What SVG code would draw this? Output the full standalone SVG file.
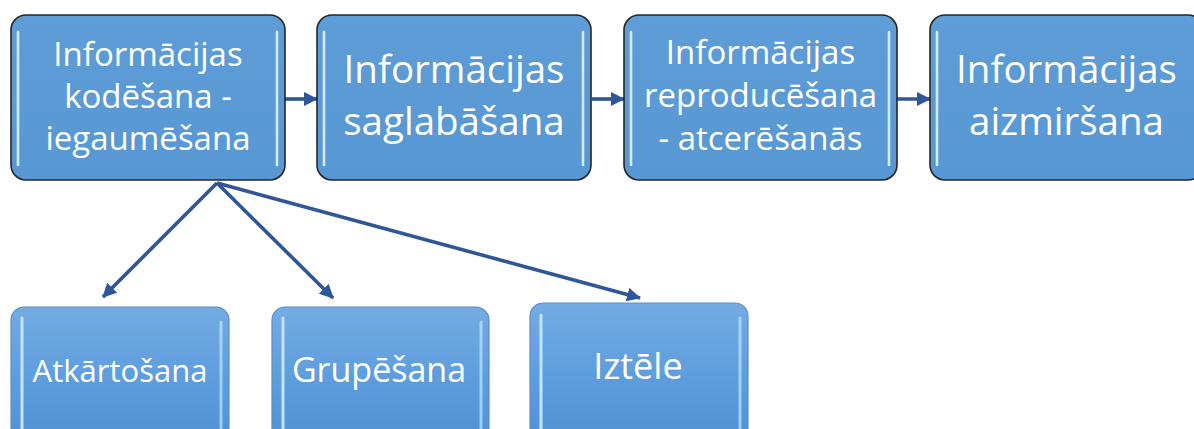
<svg xmlns="http://www.w3.org/2000/svg" width="1194" height="429" viewBox="0 0 1194 429">
  <defs>
    <linearGradient id="gTop" x1="0" y1="0" x2="0" y2="1">
      <stop offset="0" stop-color="#5e9dd7"/>
      <stop offset="1" stop-color="#5797d3"/>
    </linearGradient>
    <linearGradient id="gBot" x1="0" y1="0" x2="0" y2="1">
      <stop offset="0" stop-color="#74abe3"/>
      <stop offset="0.6" stop-color="#5a9bdc"/>
      <stop offset="1" stop-color="#4f8fd4"/>
    </linearGradient>
    <marker id="ah" markerUnits="userSpaceOnUse" markerWidth="16" markerHeight="16" refX="13" refY="7" orient="auto">
      <path d="M0,0 L14,7 L0,14 Z" fill="#2f5698"/>
    </marker>
    <style>
      .top { fill: url(#gTop); stroke: #262626; stroke-width: 1.6; }
      .bot { fill: url(#gBot); stroke: #5d8fc6; stroke-width: 1.2; }
      .hl { stroke: #d2ebff; stroke-width: 2.6; stroke-linecap: round; fill: none; }
      .hlb { stroke: #bfe5ff; stroke-width: 3; stroke-linecap: round; fill: none; }
      .t { font-family: "Open Sans", "Noto Sans", sans-serif; fill: #ffffff; text-anchor: middle; }
      .con { stroke: #2f5698; stroke-width: 3.6; fill: none; marker-end: url(#ah); }
    </style>
  </defs>

  <g id="connectors">
    <line class="con" x1="285" y1="99" x2="317" y2="99"/>
    <line class="con" x1="592" y1="99" x2="624" y2="99"/>
    <line class="con" x1="897" y1="99" x2="930" y2="99"/>
    <line class="con" x1="217" y1="183" x2="103" y2="297"/>
    <line class="con" x1="217" y1="183" x2="333" y2="298"/>
    <line class="con" x1="217" y1="183" x2="640" y2="298"/>
  </g>

  <g id="node-kodesana">
    <rect class="top" x="11" y="15" width="274" height="165" rx="15"/>
    <line class="hl" x1="18" y1="32" x2="18" y2="165"/>
    <line class="hl" x1="277" y1="32" x2="277" y2="165"/>
    <text class="t" font-size="33" x="148" y="66">Informācijas</text>
    <text class="t" font-size="33" x="148" y="108">kodēšana -</text>
    <text class="t" font-size="33" x="148" y="150">iegaumēšana</text>
  </g>

  <g id="node-saglabasana">
    <rect class="top" x="317" y="15" width="274" height="165" rx="15"/>
    <line class="hl" x1="324" y1="32" x2="324" y2="165"/>
    <line class="hl" x1="583" y1="32" x2="583" y2="165"/>
    <text class="t" font-size="38.5" x="454" y="83">Informācijas</text>
    <text class="t" font-size="38.5" x="454" y="135">saglabāšana</text>
  </g>

  <g id="node-reproducesana">
    <rect class="top" x="624" y="15" width="273" height="165" rx="15"/>
    <line class="hl" x1="631" y1="32" x2="631" y2="165"/>
    <line class="hl" x1="889" y1="32" x2="889" y2="165"/>
    <text class="t" font-size="33" x="760.5" y="64">Informācijas</text>
    <text class="t" font-size="33" x="760.5" y="107">reproducēšana</text>
    <text class="t" font-size="33" x="760.5" y="150">- atcerēšanās</text>
  </g>

  <g id="node-aizmirsana">
    <rect class="top" x="930" y="15" width="273" height="165" rx="15"/>
    <line class="hl" x1="937" y1="32" x2="937" y2="165"/>
    <text class="t" font-size="38.5" x="1066.5" y="83">Informācijas</text>
    <text class="t" font-size="38.5" x="1066.5" y="135">aizmiršana</text>
  </g>

  <g id="node-atkartosana">
    <rect class="bot" x="11" y="307" width="218" height="140" rx="13"/>
    <line class="hlb" x1="22" y1="318" x2="22" y2="435"/>
    <line class="hlb" x1="221" y1="322" x2="221" y2="435" opacity="0.7"/>
    <text class="t" font-size="31" x="120" y="382">Atkārtošana</text>
  </g>

  <g id="node-grupesana">
    <rect class="bot" x="272" y="307" width="217" height="140" rx="13"/>
    <line class="hlb" x1="283" y1="318" x2="283" y2="435"/>
    <line class="hlb" x1="481" y1="322" x2="481" y2="435" opacity="0.7"/>
    <text class="t" font-size="34" x="379" y="382">Grupēšana</text>
  </g>

  <g id="node-iztele">
    <rect class="bot" x="530" y="303" width="218" height="144" rx="13"/>
    <line class="hlb" x1="541" y1="315" x2="541" y2="435"/>
    <line class="hlb" x1="740" y1="318" x2="740" y2="435" opacity="0.7"/>
    <text class="t" font-size="36" x="638" y="379">Iztēle</text>
  </g>
</svg>
